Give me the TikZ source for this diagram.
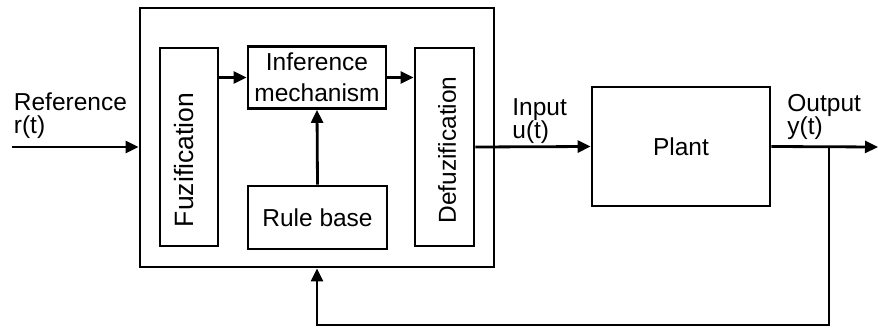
\documentclass[tikz,border=0pt]{standalone}
\usepackage{fontspec}
\setmainfont{Liberation Sans}
\usetikzlibrary{arrows.meta}
\begin{document}
\begin{tikzpicture}[x=1pt,y=-1pt,
  line width=2.8pt,
  blk/.style={draw,rectangle,inner sep=0pt,line join=miter},
  txt/.style={font=\fontsize{24.5}{23}\selectfont,inner sep=0pt},
  sig/.style={-{Triangle[length=13pt,width=12pt]}}]
\useasboundingbox (0,0) rectangle (878,329);

% controller frame and its inner blocks
\node[blk,minimum width=354pt,minimum height=259pt] (ctrl) at (317,137.5) {};
\node[blk,minimum width=58pt,minimum height=198pt] (fuz) at (189,147) {};
\node[blk,minimum width=59pt,minimum height=198pt] (defuz) at (444.5,147) {};
\node[blk,minimum width=138pt,minimum height=62pt,align=center,
      font=\fontsize{24.5}{31}\selectfont] (inf) at (317,77.5) {Inference\\mechanism};
\node[blk,minimum width=139pt,minimum height=63pt,txt] (rule) at (317.5,217.5) {Rule base};
\node[txt,font=\fontsize{26.5}{26}\selectfont,rotate=90] (fuztxt) at (184,160) {Fuzification};
\node[txt,rotate=90] (defuztxt) at (447,150) {Defuzification};

% plant
\node[blk,minimum width=178pt,minimum height=119pt,txt] (plant) at (681,146.5) {Plant};

% signal labels
\node[txt,anchor=north west,align=left] (reflbl) at (12.5,91) {Reference\\r(t)};
\node[txt,anchor=north west,align=left] (inlbl) at (511,97) {Input\\u(t)};
\node[txt,anchor=north west,align=left] (outlbl) at (786,93) {Output\\y(t)};

% free ends and branch point
\coordinate (refin) at (12,147);
\coordinate (yout) at (878,147);
\coordinate (branch) at (829,147);
\coordinate (fbcorner) at (829,325);

% connectors
\draw[sig] (refin) -- (refin -| ctrl.west);
\draw[sig] (inf.west -| fuz.east) -- (inf.west);
\draw[sig] (inf.east) -- (inf.east -| defuz.west);
\draw[sig] (rule.north) -- (inf.south);
\draw[sig] (defuz.east) -- (plant.west);
\draw[sig] (plant.east) -- (yout);
\draw[sig] (branch) -- (fbcorner) -| (ctrl.south);
\end{tikzpicture}
\end{document}
